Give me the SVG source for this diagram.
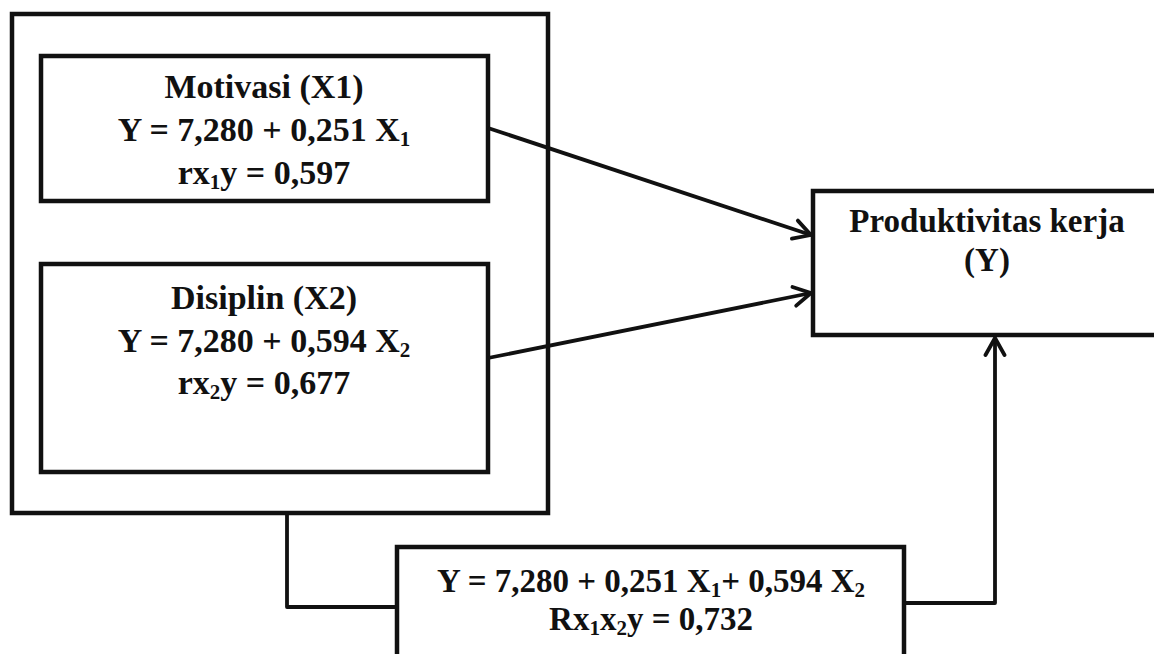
<svg xmlns="http://www.w3.org/2000/svg" width="1154" height="654" viewBox="0 0 1154 654">
<style>
.box{fill:#fff;stroke:#111;stroke-width:4.5}
.outer{fill:none;stroke:#111;stroke-width:4.5}
.t{font-family:"Liberation Serif","Times New Roman",serif;font-weight:bold;font-size:33px;fill:#111;text-anchor:middle}
.l{font-size:34px}
.s{font-size:21px}
.c{fill:none;stroke:#111;stroke-width:3.8;stroke-linejoin:round}
</style>
<defs>
<marker id="arr" viewBox="0 0 24 24" refX="21" refY="12" markerWidth="24" markerHeight="24" markerUnits="userSpaceOnUse" orient="auto">
<path d="M4,2.5 L21,12 L4,21.5" fill="none" stroke="#111" stroke-width="3.8" stroke-linecap="round" stroke-linejoin="round"/>
</marker>
</defs>
<rect width="1154" height="654" fill="#fff"/>
<g id="group-x">
<rect class="outer" x="12" y="14" width="536" height="499"/>
</g>
<g id="motivasi">
<rect class="box" x="41" y="56" width="447" height="145"/>
<text class="t l" x="264" y="98">Motivasi (X1)</text>
<text class="t l" x="264" y="141">Y = 7,280 + 0,251 X<tspan class="s" dy="5">1</tspan></text>
<text class="t l" x="264" y="184">rx<tspan class="s" dy="5">1</tspan><tspan dy="-5">y = 0,597</tspan></text>
</g>
<g id="disiplin">
<rect class="box" x="41" y="264" width="447" height="208"/>
<text class="t l" x="264" y="309">Disiplin (X2)</text>
<text class="t l" x="264" y="352">Y = 7,280 + 0,594 X<tspan class="s" dy="5">2</tspan></text>
<text class="t l" x="264" y="394">rx<tspan class="s" dy="5">2</tspan><tspan dy="-5">y = 0,677</tspan></text>
</g>
<g id="produktivitas">
<rect class="box" x="813" y="191" width="350" height="144"/>
<text class="t" x="987" y="232">Produktivitas kerja</text>
<text class="t" x="987" y="271">(Y)</text>
</g>
<g id="regresi-ganda">
<rect class="box" x="397" y="547" width="507" height="140"/>
<text class="t" x="651" y="592">Y = 7,280 + 0,251 X<tspan class="s" dy="5">1</tspan><tspan dy="-5">+ 0,594 X</tspan><tspan class="s" dy="5">2</tspan></text>
<text class="t" x="651" y="630">Rx<tspan class="s" dy="5">1</tspan><tspan dy="-5">x</tspan><tspan class="s" dy="5">2</tspan><tspan dy="-5">y = 0,732</tspan></text>
</g>
<g id="connectors">
<line class="c" x1="488" y1="128" x2="811" y2="235" marker-end="url(#arr)"/>
<line class="c" x1="488" y1="358" x2="811" y2="293" marker-end="url(#arr)"/>
<polyline class="c" points="904,603 995,603 995,338" marker-end="url(#arr)"/>
<polyline class="c" points="287,513 287,607 397,607"/>
</g>
</svg>
